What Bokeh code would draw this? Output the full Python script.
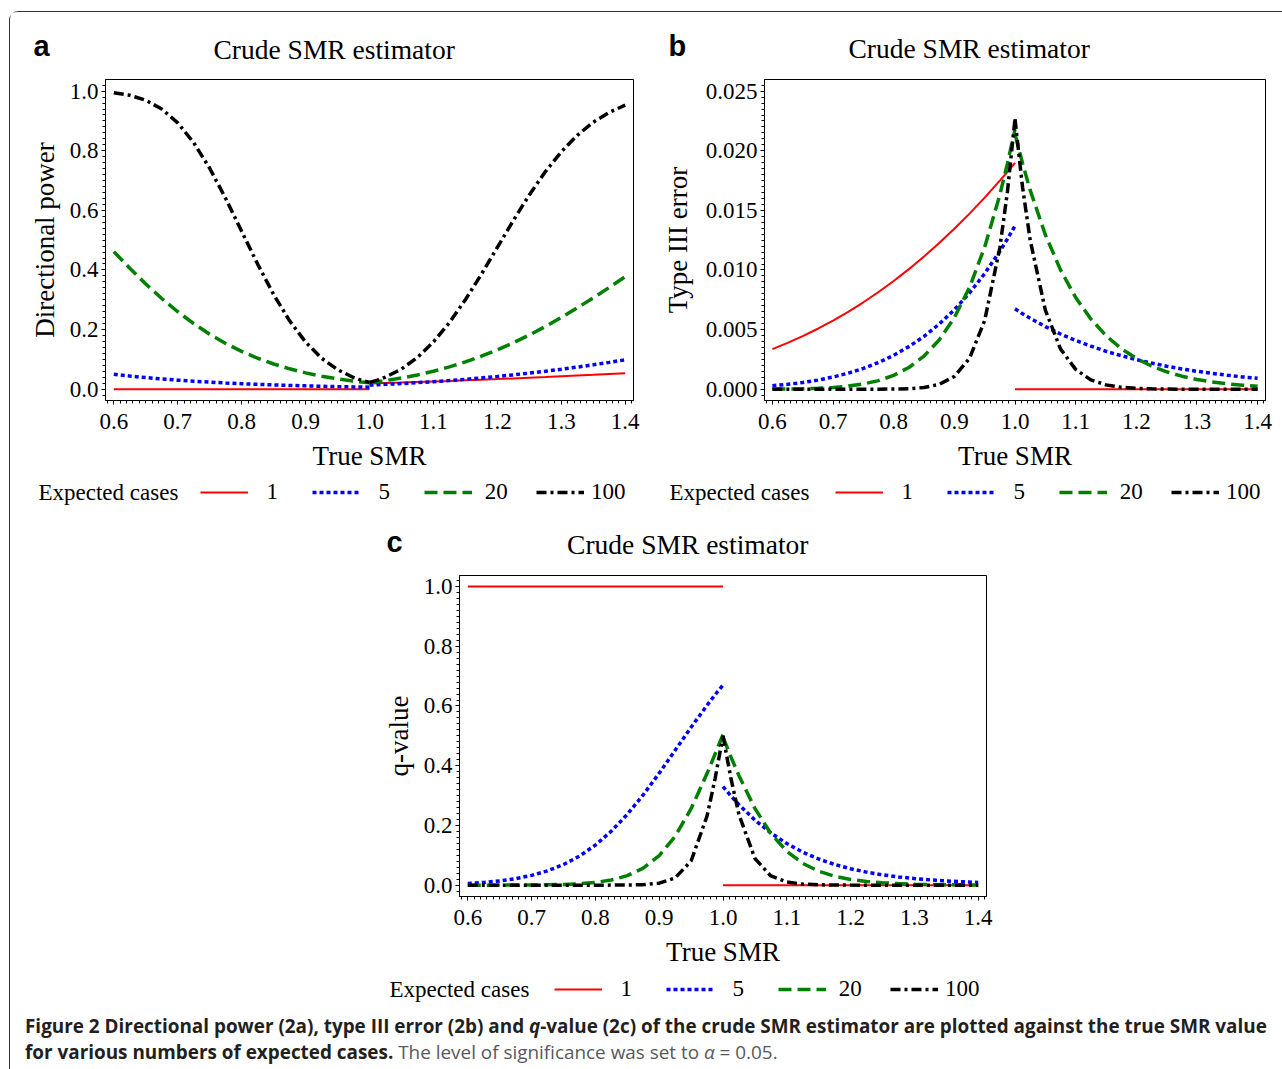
from bokeh.plotting import figure
from bokeh.models import (Range1d, FixedTicker, PrintfTickFormatter, Legend, LegendItem,
                          Label, Div, Spacer)
from bokeh.layouts import column, row
from bokeh.embed import file_html
from bokeh.resources import INLINE

# ---------------- data ----------------
x_left = [0.6, 0.625, 0.65, 0.675, 0.7, 0.725, 0.75, 0.775, 0.8, 0.825, 0.85, 0.875,
          0.9, 0.925, 0.95, 0.975, 0.9875, 1.0]
x_right = [1.0, 1.0125, 1.025, 1.05, 1.075, 1.1, 1.125, 1.15, 1.175, 1.2, 1.225, 1.25,
           1.275, 1.3, 1.325, 1.35, 1.375, 1.4]

expected_cases = ["1", "5", "20", "100"]

# (a) directional power
power_1_left = [0.0, 0.0, 0.0, 0.0, 0.0, 0.0, 0.0, 0.0, 0.0, 0.0, 0.0, 0.0, 0.0, 0.0, 0.0, 0.0, 0.0, 0.0]
power_1_right = [0.01899, 0.01976, 0.02056, 0.02221, 0.02394, 0.02574, 0.02763, 0.02959, 0.03164,
                 0.03377, 0.03598, 0.03827, 0.04064, 0.04309, 0.04563, 0.04825, 0.05094, 0.05372]
power_5_left = [0.04979, 0.04394, 0.03877, 0.03422, 0.03020, 0.02665, 0.02352, 0.02075, 0.01832,
                0.01616, 0.01426, 0.01259, 0.01111, 0.00980, 0.00865, 0.00764, 0.00717, 0.00674]
power_5_right = [0.01370, 0.01486, 0.01611, 0.01882, 0.02187, 0.02525, 0.02900, 0.03314, 0.03767,
                 0.04262, 0.04800, 0.05382, 0.06010, 0.06684, 0.07405, 0.08173, 0.08989, 0.09852]
power_20_left = [0.4616, 0.4057, 0.3530, 0.3042, 0.2597, 0.2198, 0.1844, 0.1535, 0.1267,
                 0.1038, 0.0845, 0.0683, 0.0548, 0.0437, 0.0347, 0.0273, 0.0242, 0.0214]
power_20_right = [0.0218, 0.0252, 0.0289, 0.0375, 0.0478, 0.0602, 0.0747, 0.0915, 0.1105,
                  0.1320, 0.1558, 0.1819, 0.2102, 0.2406, 0.2727, 0.3064, 0.3413, 0.3773]
power_100_left = [0.9944, 0.9860, 0.9694, 0.9400, 0.8935, 0.8270, 0.7411, 0.6397, 0.5297,
                  0.4197, 0.3176, 0.2294, 0.1581, 0.1041, 0.0654, 0.0393, 0.0300, 0.0227]
power_100_right = [0.0227, 0.0306, 0.0405, 0.0677, 0.1064, 0.1583, 0.2233, 0.3000, 0.3855,
                   0.4757, 0.5660, 0.6517, 0.7294, 0.7964, 0.8518, 0.8956, 0.9288, 0.9530]

# (b) type III error
t3_1_left = [0.00336, 0.00388, 0.00445, 0.00507, 0.00575, 0.00649, 0.00729, 0.00815, 0.00908,
             0.01007, 0.01113, 0.01226, 0.01346, 0.01473, 0.01607, 0.01749, 0.01823, 0.01899]
t3_1_right = [0.0, 0.0, 0.0, 0.0, 0.0, 0.0, 0.0, 0.0, 0.0, 0.0, 0.0, 0.0, 0.0, 0.0, 0.0, 0.0, 0.0, 0.0]
t3_5_left = [0.00029, 0.00041, 0.00056, 0.00076, 0.00102, 0.00134, 0.00174, 0.00224, 0.00284,
             0.00357, 0.00443, 0.00546, 0.00667, 0.00807, 0.00970, 0.01157, 0.01260, 0.01370]
t3_5_right = [0.00674, 0.00633, 0.00595, 0.00525, 0.00463, 0.00409, 0.00361, 0.00318, 0.00281,
              0.00248, 0.00219, 0.00193, 0.00170, 0.00150, 0.00133, 0.00117, 0.00103, 0.00091]
t3_20_left = [0.00001, 0.00002, 0.00004, 0.00008, 0.00014, 0.00026, 0.00044, 0.00072, 0.00116,
              0.00182, 0.00278, 0.00413, 0.00600, 0.00854, 0.01192, 0.01630, 0.01892, 0.02180]
t3_20_right = [0.02142, 0.01893, 0.01670, 0.01296, 0.01001, 0.00769, 0.00589, 0.00449, 0.00341,
               0.00258, 0.00194, 0.00146, 0.00109, 0.00081, 0.00060, 0.00045, 0.00033, 0.00024]
t3_100_left = [0.0, 0.0, 0.0, 0.0, 0.0, 0.0, 0.0, 0.000003, 0.000012,
               0.000043, 0.000139, 0.000405, 0.00107, 0.00259, 0.00576, 0.01186, 0.01655, 0.02268]
t3_100_right = [0.02266, 0.01692, 0.01252, 0.00664, 0.00338, 0.00166, 0.00078, 0.00036, 0.00016,
                0.00007, 0.00003, 0.00001, 0.0, 0.0, 0.0, 0.0, 0.0, 0.0]

# (c) q-value
q_1_left = [1.0, 1.0, 1.0, 1.0, 1.0, 1.0, 1.0, 1.0, 1.0, 1.0, 1.0, 1.0, 1.0, 1.0, 1.0, 1.0, 1.0, 1.0]
q_1_right = [0.0, 0.0, 0.0, 0.0, 0.0, 0.0, 0.0, 0.0, 0.0, 0.0, 0.0, 0.0, 0.0, 0.0, 0.0, 0.0, 0.0, 0.0]
q_5_left = [0.0058, 0.0092, 0.0143, 0.0218, 0.0327, 0.0479, 0.0690, 0.0973, 0.1342,
            0.1808, 0.2371, 0.3026, 0.3751, 0.4517, 0.5286, 0.6024, 0.6372, 0.6702]
q_5_right = [0.3298, 0.2987, 0.2696, 0.2180, 0.1748, 0.1393, 0.1106, 0.0876, 0.0694,
             0.0550, 0.0436, 0.0346, 0.0276, 0.0220, 0.0176, 0.0141, 0.0114, 0.0092]
q_20_left = [0.00002, 0.00005, 0.00011, 0.00026, 0.00054, 0.00118, 0.00238, 0.00467, 0.00907,
             0.01723, 0.03186, 0.05706, 0.0987, 0.1635, 0.2560, 0.3737, 0.4388, 0.5044]
q_20_right = [0.4956, 0.4292, 0.3666, 0.2571, 0.1730, 0.1133, 0.0731, 0.0468, 0.0299,
              0.0192, 0.0123, 0.0080, 0.0052, 0.0034, 0.0022, 0.0015, 0.0010, 0.0006]
q_100_left = [0.0, 0.0, 0.0, 0.0, 0.0, 0.0, 0.0, 0.000005, 0.00002,
              0.0001, 0.00044, 0.00176, 0.00672, 0.02428, 0.0809, 0.2316, 0.3554, 0.5002]
q_100_right = [0.4998, 0.3564, 0.2363, 0.0894, 0.0308, 0.0104, 0.0035, 0.0012, 0.0004,
               0.00015, 0.0, 0.0, 0.0, 0.0, 0.0, 0.0, 0.0, 0.0]

x_ticks = [0.6, 0.7, 0.8, 0.9, 1.0, 1.1, 1.2, 1.3, 1.4]
y_ticks_unit = [0.0, 0.2, 0.4, 0.6, 0.8, 1.0]
y_ticks_t3 = [0.0, 0.005, 0.010, 0.015, 0.020, 0.025]

# ---------------- styling ----------------
SERIF = "Liberation Serif"
COLORS = ["#ff0000", "#0000ff", "#008000", "#000000"]
DASHES = ["solid", "4 3", "13 6", "10 4 3 4"]
WIDTHS = [2, 3.5, 3.5, 3.5]
# figure-space / punctuation-space padding keeps the legend numbers centred in their cells
LEGEND_LABELS = ["\u2007" + expected_cases[0], "\u2007" + expected_cases[1],
                 "\u2008" + expected_cases[2], expected_cases[3]]
FULL_W = 1270

x_minor = [round(0.59 + 0.01 * i, 2) for i in range(83)]
y_minor_unit = [round(-0.02 + 0.02 * i, 2) for i in range(54)]
y_minor_t3 = [round(-0.0005 + 0.0005 * i, 4) for i in range(54)]


def style_axis(ax, ticks, minor, fmt, label_standoff, tick_standoff):
    ax.ticker = FixedTicker(ticks=ticks, minor_ticks=minor)
    ax.formatter = PrintfTickFormatter(format=fmt)
    ax.major_tick_out = 4
    ax.major_tick_in = 0
    ax.minor_tick_out = 3
    ax.minor_tick_in = 0
    ax.major_tick_line_color = "black"
    ax.minor_tick_line_color = "black"
    ax.axis_line_color = "black"
    ax.major_label_text_font = SERIF
    ax.major_label_text_font_size = "23px"
    ax.major_label_text_color = "black"
    ax.major_label_standoff = tick_standoff
    ax.axis_label_text_font = SERIF
    ax.axis_label_text_font_size = "27px"
    ax.axis_label_text_font_style = "normal"
    ax.axis_label_text_color = "black"
    ax.axis_label_standoff = label_standoff


def blank_fig(h):
    f = figure(width=FULL_W, height=h, min_border=0,
               x_range=Range1d(0, FULL_W), y_range=Range1d(0, h),
               x_axis_location=None, y_axis_location=None,
               output_backend="svg", toolbar_location=None)
    f.xgrid.visible = False
    f.ygrid.visible = False
    f.outline_line_color = None
    f.background_fill_color = "white"
    f.border_fill_color = "white"
    return f


def add_header(f, letter, letter_x, letter_y, title_x, title_y):
    f.add_layout(Label(x=letter_x, y=letter_y, text=letter, text_font="Liberation Sans",
                       text_font_size="29px", text_font_style="bold", text_color="black",
                       text_baseline="middle", text_align="left"))
    f.add_layout(Label(x=title_x, y=title_y, text="Crude SMR estimator", text_font=SERIF,
                       text_font_size="27.5px", text_color="black",
                       text_baseline="middle", text_align="left"))


def legend_renderers(f, series):
    f.extra_y_ranges = {"hidden": Range1d(5, 6)}
    rs = []
    for i, (left_vals, _right_vals) in enumerate(series):
        rs.append(f.line(x_left, left_vals, y_range_name="hidden", line_color=COLORS[i],
                         line_width=WIDTHS[i], line_dash=DASHES[i]))
    return rs


def add_legend(f, rs, exp_x, glyph_x, center_y):
    items = [LegendItem(label=LEGEND_LABELS[i], renderers=[rs[i]]) for i in range(4)]
    leg = Legend(items=items, location=(glyph_x, center_y - 13), orientation="horizontal",
                 glyph_width=48, glyph_height=20, label_width=40, label_height=20,
                 label_standoff=7, spacing=17, padding=0, margin=0,
                 border_line_alpha=0, background_fill_alpha=0,
                 label_text_font=SERIF, label_text_font_size="23px",
                 label_text_color="black", label_text_baseline="middle")
    f.add_layout(leg, "center")
    f.add_layout(Label(x=exp_x, y=center_y, text="Expected cases", text_font=SERIF,
                       text_font_size="23px", text_color="black",
                       text_baseline="middle", text_align="left"))


def make_main(ylabel, yr, yticks, yminor, yfmt, series, fw, mb, ylabel_standoff):
    p = figure(frame_width=fw, frame_height=321,
               min_border_left=mb[0], min_border_right=mb[1],
               min_border_top=mb[2], min_border_bottom=mb[3],
               x_range=Range1d(0.587, 1.413), y_range=Range1d(*yr),
               output_backend="svg", toolbar_location=None)
    p.xgrid.visible = False
    p.ygrid.visible = False
    p.outline_line_color = "black"
    p.outline_line_width = 1
    p.background_fill_color = "white"
    p.border_fill_color = "white"
    p.xaxis.axis_label = "True SMR"
    p.yaxis.axis_label = ylabel
    style_axis(p.xaxis[0], x_ticks, x_minor, "%.1f", 9, 9)
    style_axis(p.yaxis[0], yticks, yminor, yfmt, ylabel_standoff, 3)
    for i, (left_vals, right_vals) in enumerate(series):
        kw = dict(line_color=COLORS[i], line_width=WIDTHS[i], line_dash=DASHES[i])
        p.line(x_left, left_vals, **kw)
        p.line(x_right, right_vals, **kw)
    return p


series_a = [(power_1_left, power_1_right), (power_5_left, power_5_right),
            (power_20_left, power_20_right), (power_100_left, power_100_right)]
series_b = [(t3_1_left, t3_1_right), (t3_5_left, t3_5_right),
            (t3_20_left, t3_20_right), (t3_100_left, t3_100_right)]
series_c = [(q_1_left, q_1_right), (q_5_left, q_5_right),
            (q_20_left, q_20_right), (q_100_left, q_100_right)]

# headers (panel letters + titles)
head_ab = blank_fig(61)
add_header(head_ab, "a", 23, 28, 203, 24)
add_header(head_ab, "b", 658, 28, 838, 25)
head_c = blank_fig(49)
add_header(head_c, "c", 376, 27.3, 556.6, 25)

# main plots
main_a = make_main("Directional power", (-0.038, 1.039), y_ticks_unit, y_minor_unit, "%.1f",
                   series_a, 528, (95, 7, 6, 78), 7)
main_b = make_main("Type III error", (-0.00095, 0.02598), y_ticks_t3, y_minor_t3, "%.3f",
                   series_b, 501, (124, 15, 6, 78), 10)
main_c = make_main("q-value", (-0.038, 1.037), y_ticks_unit, y_minor_unit, "%.1f",
                   series_c, 527, (99, 14, 6, 78), 7)

# legends
leg_ab = blank_fig(42)
rs_ab = legend_renderers(leg_ab, series_a)
add_legend(leg_ab, rs_ab, 28, 190, 28)
add_legend(leg_ab, rs_ab, 659, 825, 28)
leg_c = blank_fig(34)
rs_c = legend_renderers(leg_c, series_c)
add_legend(leg_c, rs_c, 379, 544, 19)

caption = Div(
    text=('<div style="font-family: \'Open Sans\', sans-serif; font-size: 18.9px; line-height: 26px; '
          'color: #231f20; white-space: nowrap; padding-left: 10px; padding-top: 0px;">'
          '<span style="font-weight:700;">Figure 2 Directional power (2a), type III error (2b) and '
          '<i>q</i>-value (2c) of the crude SMR estimator are plotted against the true SMR value<br>'
          'for various numbers of expected cases.</span> '
          '<span style="color:#58595b; font-weight:400;">The level of significance was set to '
          '<i>&alpha;</i> = 0.05.</span></div>'),
    width=FULL_W, height=55)

root = column(head_ab, row(main_a, main_b), leg_ab,
              head_c, row(Spacer(width=350, height=405), main_c), leg_c,
              caption,
              margin=(11, 0, 0, 9),
              styles={"border-top": "1px solid #333333", "border-left": "1px solid #333333",
                      "border-top-left-radius": "9px"})

open("out.html", "w").write(file_html(root, INLINE))
